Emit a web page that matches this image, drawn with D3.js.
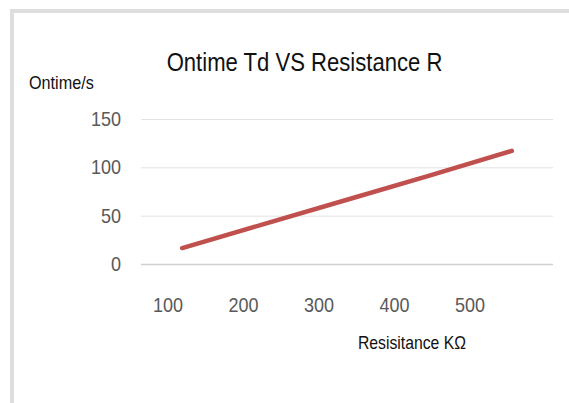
<!DOCTYPE html>
<html>
<head>
<meta charset="utf-8">
<script src="https://cdn.jsdelivr.net/npm/d3@7"></script>
<style>
  body { margin: 0; background: #fff; }
  svg { display: block; font-family: "Liberation Sans Narrow", "Liberation Sans", sans-serif; }
</style>
</head>
<body>
<div id="chart"></div>
<script>
// Ontime Td vs Resistance R

const resistance = ['100', '200', '300', '400', '500'];
const ontime = [16.5, 41.5, 66.5, 91.5, 117];
const yTicks = [0, 50, 100, 150];

const width = 569, height = 403;

const svg = d3.select('#chart').append('svg')
  .attr('width', width)
  .attr('height', height);

// chart frame (left + top edge only show in the crop)
svg.append('rect')
  .attr('x', 12).attr('y', 11)
  .attr('width', width + 20).attr('height', height + 20)
  .attr('fill', 'none')
  .attr('stroke', '#dedede')
  .attr('stroke-width', 4);

let plot = { left: 141, right: 553, top: 119, bottom: 264 };

let x = d3.scaleBand()
  .domain(resistance)
  .range([plot.left, plot.right]);

// tick labels sit a bit left of the band centres in the original
let xLabel = d3.scalePoint()
  .domain(resistance)
  .range([168, 470]);

let y = d3.scaleLinear()
  .domain([0, 150])
  .range([plot.bottom, plot.top]);

// gridlines
svg.append('g')
  .selectAll('line')
  .data(yTicks)
  .enter().append('line')
  .attr('x1', plot.left)
  .attr('x2', plot.right)
  .attr('y1', d => y(d) + 0.5)
  .attr('y2', d => y(d) + 0.5)
  .attr('stroke', d => d === 0 ? '#d0d0d0' : '#e2e2e2')
  .attr('stroke-width', d => d === 0 ? 1.5 : 1);

// narrow-ish text: squeeze horizontally to mimic the condensed original font
function squeezed (g, tx, ty, sx, anchor, size, fill, str) {
  g.append('text')
    .attr('transform', 'translate(' + tx + ',' + ty + ') scale(' + sx + ',1)')
    .attr('dy', '0.35em')
    .attr('text-anchor', anchor)
    .attr('fill', fill)
    .style('font-size', size + 'px')
    .text(str);
}

// y tick labels
let yg = svg.append('g');
yTicks.forEach(d => squeezed(yg, 121, y(d), 0.9, 'end', 20, '#595959', d));

// x tick labels
let xg = svg.append('g');
resistance.forEach(d => squeezed(xg, xLabel(d), 305, 0.9, 'middle', 20, '#595959', d));

// series line
let line = d3.line()
  .x((d, i) => x(resistance[i]) + x.bandwidth() / 2)
  .y(d => y(d));

svg.append('path')
  .datum(ontime)
  .attr('d', line)
  .attr('fill', 'none')
  .attr('stroke', '#c0504d')
  .attr('stroke-width', 4.5)
  .attr('stroke-linecap', 'round');

// titles
squeezed(svg, 304.5, 62, 0.85, 'middle', 26, '#111', 'Ontime Td VS Resistance R');
squeezed(svg, 29, 83, 0.9, 'start', 18, '#111', 'Ontime/s');
squeezed(svg, 358, 343, 0.9, 'start', 17.5, '#111', 'Resisitance KΩ');
</script>
</body>
</html>
